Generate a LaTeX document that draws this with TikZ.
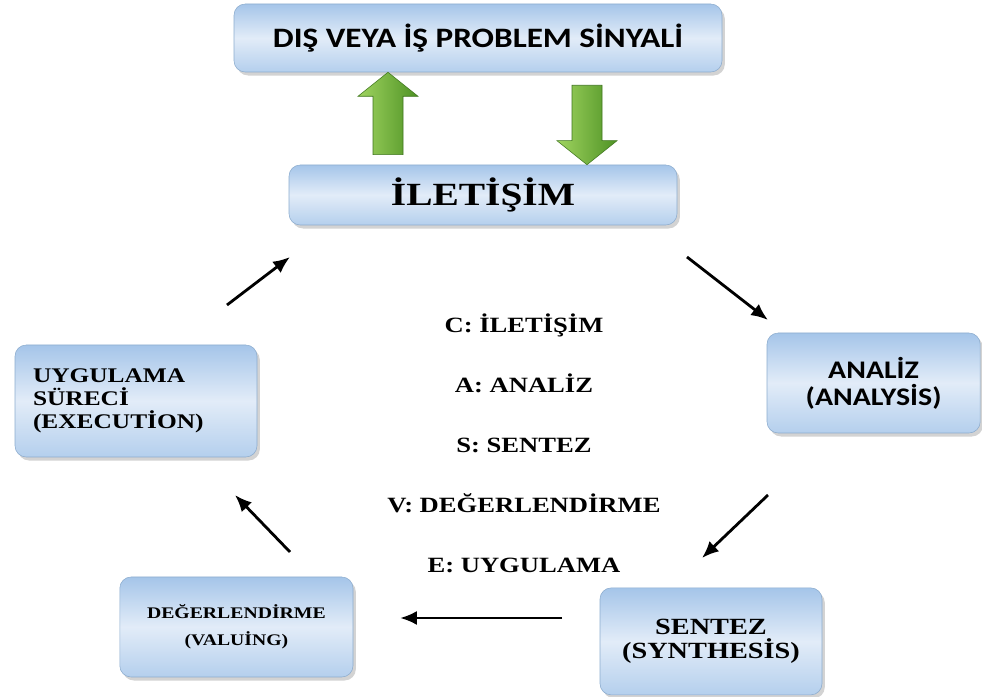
\documentclass[tikz,border=0pt]{standalone}
\usepackage{fontspec}
\usepackage{tikz}
\usetikzlibrary{calc}
\usetikzlibrary{shadows}
\usetikzlibrary{arrows.meta}
\newfontfamily\cyclesans[FakeStretch=1.18]{Carlito}
\newfontfamily\cycleserif[FakeStretch=1.22]{Liberation Serif}
\definecolor{boxtop}{RGB}{165,197,233}
\definecolor{boxmid}{RGB}{226,236,248}
\definecolor{boxbottom}{RGB}{180,207,237}
\definecolor{boxedge}{RGB}{140,172,206}
\definecolor{arrowlight}{RGB}{160,212,96}
\definecolor{arrowdark}{RGB}{78,146,36}
\tikzset{
	boxstyle/.style={rectangle,rounded corners=8pt,draw=boxedge,top color=boxtop,bottom color=boxbottom,middle color=boxmid,drop shadow={shadow xshift=2pt,shadow yshift=-2.5pt,opacity=0.35}},
	cyclestyle/.style={line width=2pt,-{Latex[length=12pt,width=10pt]}},
	greenstyle/.style={left color=arrowlight,right color=arrowdark,draw=arrowdark!80!black,line width=0.4pt}
}
% block arrow from tail #1 to tip #2
\newcommand{\greenarrow}[2]{%
	\draw[greenstyle] (#2) -- ($(#2)!0.6cm!(#1)!0.75cm!90:(#1)$) -- ($(#2)!0.6cm!(#1)!0.375cm!90:(#1)$) -- ($(#1)!0.375cm!-90:(#2)$) -- ($(#1)!0.375cm!90:(#2)$) -- ($(#2)!0.6cm!(#1)!0.375cm!-90:(#1)$) -- ($(#2)!0.6cm!(#1)!0.75cm!-90:(#1)$) -- cycle;}
\begin{document}
\begin{tikzpicture}
	\useasboundingbox (0,0) rectangle (24.55,17.425);
	\node[boxstyle,minimum width=12.2cm,minimum height=1.7cm,font=\cyclesans\bfseries\fontsize{20}{24}\selectfont] (signal) at (11.95,16.475) {DIŞ VEYA İŞ PROBLEM SİNYALİ};
	\node[boxstyle,minimum width=9.7cm,minimum height=1.5cm,font=\cycleserif\bfseries\fontsize{23}{27}\selectfont] (comm) at (12.075,12.55) {İLETİŞİM};
	\node[boxstyle,minimum width=5.33cm,minimum height=2.5cm,align=center,font=\cyclesans\bfseries\fontsize{18}{19}\selectfont] (ana) at (21.84,7.85) {ANALİZ\\(ANALYSİS)};
	\node[boxstyle,minimum width=5.55cm,minimum height=2.675cm,align=center,font=\cycleserif\bfseries\fontsize{16.5}{17}\selectfont] (syn) at (17.775,1.39) {SENTEZ\\(SYNTHESİS)};
	\node[boxstyle,minimum width=5.83cm,minimum height=2.5cm,align=center,font=\cycleserif\bfseries\fontsize{11.5}{19}\selectfont] (val) at (5.91,1.75) {DEĞERLENDİRME\\(VALUİNG)};
	\node[boxstyle,text width=5.15cm,inner xsep=0.45cm,minimum height=2.8cm,align=left,font=\cycleserif\bfseries\fontsize{14.8}{16.5}\selectfont] (exec) at (3.4,7.4) {UYGULAMA\\SÜRECİ\\(EXECUTİON)};
	\node[align=center,font=\cycleserif\bfseries\fontsize{15.5}{42.7}\selectfont] (legend) at (13.1,6.35) {C: İLETİŞİM\\A: ANALİZ\\S: SENTEZ\\V: DEĞERLENDİRME\\E: UYGULAMA};
	% green arrows
	\coordinate (uptail) at ($(comm.north)+(-2.375,0.25)$);
	\coordinate (uptip) at ($(signal.south)+(-2.25,0)$);
	\coordinate (downtail) at ($(signal.south)+(2.725,-0.325)$);
	\coordinate (downtip) at ($(comm.north)+(2.6,0)$);
	\greenarrow{uptail}{uptip}
	\greenarrow{downtail}{downtip}
	% cycle arrows
	\coordinate (commout) at (17.175,11.0);
	\coordinate (anain) at (19.2,9.425);
	\coordinate (anaout) at (19.2,5.05);
	\coordinate (synin) at (17.55,3.475);
	\coordinate (synout) at (14.05,1.975);
	\coordinate (valin) at (10.0,1.975);
	\coordinate (valout) at (7.25,3.625);
	\coordinate (execin) at (5.875,5.05);
	\coordinate (execout) at (5.675,9.8);
	\coordinate (commin) at (7.25,11.0);
	\foreach \a/\b in {commout/anain,anaout/synin,synout/valin,valout/execin,execout/commin}
	\draw[cyclestyle] (\a)--(\b);
\end{tikzpicture}
\end{document}
